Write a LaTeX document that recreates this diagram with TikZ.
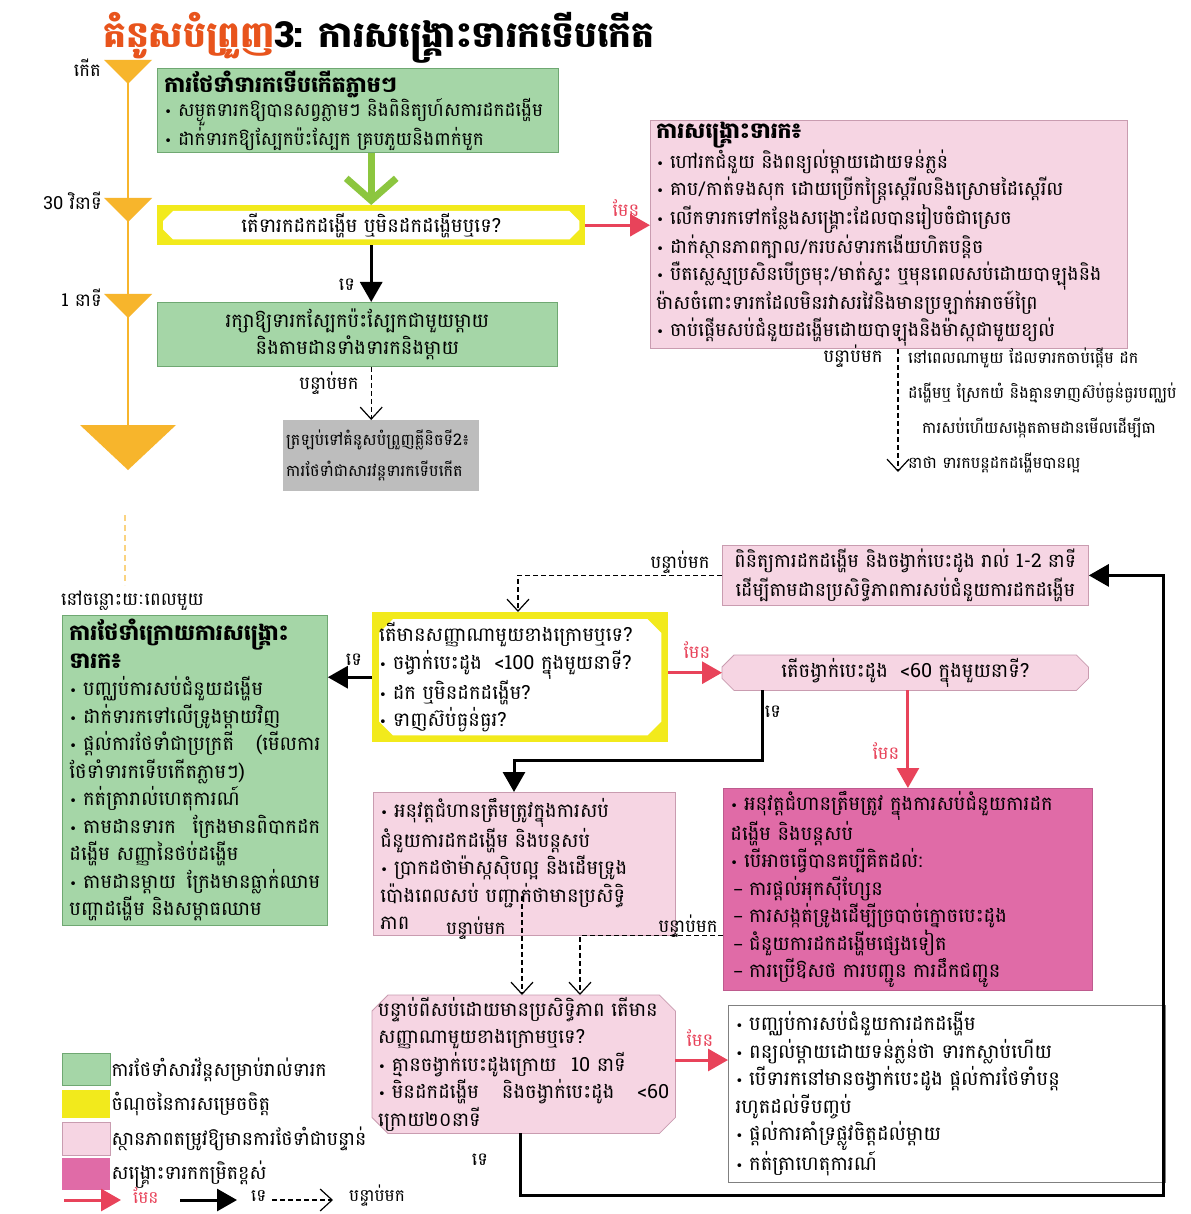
\documentclass[tikz,border=0pt]{standalone}
\usepackage{fontspec}
\newfontfamily\kh[Script=Khmer]{Battambang}
\newfontfamily\dv{DejaVu Sans}
\usetikzlibrary{arrows.meta,calc,backgrounds}
\definecolor{grn}{HTML}{A5D6A7}
\definecolor{grnd}{HTML}{6FA872}
\definecolor{grna}{HTML}{8CC63F}
\definecolor{yel}{HTML}{F2EA1C}
\definecolor{pnk}{HTML}{F6D5E3}
\definecolor{pnkd}{HTML}{C99CB0}
\definecolor{mag}{HTML}{E06BA7}
\definecolor{redc}{HTML}{E8435A}
\definecolor{org}{HTML}{F7B52C}
\definecolor{gry}{HTML}{BDBDBD}
\definecolor{ttl}{HTML}{E8541C}
\newcommand\bu{{\dv\fontsize{13}{10}\selectfont •}\hspace{6pt}}
\newcommand\di{{\dv –}\hspace{6pt}}
\newcommand\hd[1]{{\bfseries\fontsize{22}{27}\selectfont #1}}
\newcommand\chamf[4]{%
 \path[#4] ($(#1.north west)+(#2,#2+#3)$) -- ($(#1.north west)+(#2+#3,#2)$) -- ($(#1.north east)+(-#2-#3,#2)$) -- ($(#1.north east)+(-#2,#2+#3)$) -- ($(#1.south east)+(-#2,-#2-#3)$) -- ($(#1.south east)+(-#2-#3,-#2)$) -- ($(#1.south west)+(#2+#3,-#2)$) -- ($(#1.south west)+(#2,-#2-#3)$) -- cycle;}
\begin{document}
\begin{tikzpicture}[x=1pt,y=-1pt,
  box/.style={rectangle, anchor=north west, inner xsep=7pt, inner ysep=2pt, align=left},
  gbox/.style={box, fill=grn, draw=grnd, line width=0.8pt},
  pbox/.style={box, fill=pnk, draw=pnkd, line width=0.8pt},
  mbox/.style={box, fill=mag, draw=mag!85!black, line width=0.8pt},
  wbox/.style={box, fill=white, draw=gray, line width=1pt},
  plain/.style={box, draw=none},
  tA/.style={font=\kh\fontsize{19.5}{27.5}\selectfont},
  tB/.style={font=\kh\fontsize{16}{35}\selectfont},
  lbl/.style={font=\kh\fontsize{18}{20}\selectfont, inner sep=1pt},
  ylbl/.style={lbl, text=redc},
  yesarr/.style={draw=redc, line width=3pt, -{Triangle[length=20pt,width=22pt]}},
  noarr/.style={draw=black, line width=3pt, -{Triangle[length=20pt,width=22pt]}},
  thenarr/.style={draw=black, line width=1.2pt, dash pattern=on 5pt off 3pt, -{Straight Barb[length=12pt,width=22pt,line width=1.2pt]}},
]
\begin{scope}[on background layer]
\fill[white] (0,0) rectangle (1190,1214);
\end{scope}
\useasboundingbox (0,0) rectangle (1190,1214);

% title
\node[anchor=west, font=\kh\bfseries\fontsize{36}{40}\selectfont, inner sep=0pt] (title) at (103,38)
  {\textcolor{ttl}{គំនូសបំព្រួញ}3: ការសង្គ្រោះទារកទើបកើត};

% timeline
\draw[org, line width=2.5pt] (128,62) -- (128,428);
\fill[org] (104,60) -- (152,60) -- (128,84) -- cycle;
\fill[org] (104,198) -- (152,198) -- (128,222) -- cycle;
\fill[org] (104,294) -- (152,294) -- (128,318) -- cycle;
\fill[org] (80,425) -- (176,425) -- (128,470) -- cycle;
\draw[org!60, line width=1.5pt, dash pattern=on 6pt off 4pt] (125,515) -- (125,585);
\node[lbl, anchor=east] (tk0) at (102,68) {កើត};
\node[lbl, anchor=east] (tk1) at (103,201) {30 វិនាទី};
\node[lbl, anchor=east] (tk2) at (103,298) {1 នាទី};

% top part
\node[gbox, font=\kh\fontsize{18.5}{24.5}\selectfont, text width=387pt, minimum height=84pt] (g1) at (157,68)
 {\hd{ការថែទាំទារកទើបកើតភ្លាមៗ}\\
  \bu សម្ងួតទារកឱ្យបានសព្វភ្លាមៗ និងពិនិត្យហ៍សការដកដង្ហើម\\
  \bu ដាក់ទារកឱ្យស្បែកប៉ះស្បែក គ្របភួយនិងពាក់មួក};

\node[plain, tA, align=center, text width=414pt, minimum height=40pt] (q1) at (157,205)
 {តើទារកដកដង្ហើម ឬមិនដកដង្ហើមឬទេ?};

\node[gbox, tA, align=center, text width=386pt, minimum height=64pt] (g2) at (157,302)
 {រក្សាឱ្យទារកស្បែកប៉ះស្បែកជាមួយម្ដាយ\\ និងតាមដានទាំងទារកនិងម្ដាយ};

\node[box, fill=gry, font=\kh\fontsize{16}{31}\selectfont, inner xsep=3pt, text width=190pt, minimum height=71pt] (gr) at (283,420)
 {ត្រឡប់ទៅគំនូសបំព្រួញគ្លីនិចទី2៖\\ ការថែទាំជាសារវន្តទារកទើបកើត};

\node[pbox, font=\kh\fontsize{19}{27}\selectfont, inner xsep=6pt, text width=465pt, minimum height=220pt] (p1) at (650,120)
 {\hd{ការសង្គ្រោះទារក៖}\\
  \bu ហៅរកជំនួយ និងពន្យល់ម្ដាយដោយទន់ភ្លន់\\
  \bu គាប/កាត់ទងសុក ដោយប្រើកន្ត្រៃស្តេរីលនិងស្រោមដៃស្តេរីល\\
  \bu លើកទារកទៅកន្លែងសង្គ្រោះដែលបានរៀបចំជាស្រេច\\
  \bu ដាក់ស្ថានភាពក្បាល/ករបស់ទារកងើយហិតបន្តិច\\
  \mbox{\bu បឺតស្លេស្មប្រសិនបើច្រមុះ/មាត់ស្ទះ ឬមុនពេលសប់ដោយបាឡុងនិង}\\
  ម៉ាសចំពោះទារកដែលមិនរវាសរវៃនិងមានប្រឡាក់អាចម៍ព្រៃ\\
  \bu ចាប់ផ្ដើមសប់ជំនួយដង្ហើមដោយបាឡុងនិងម៉ាស្កជាមួយខ្យល់};

\node[plain, tB, inner sep=0pt] (nt) at (908,348)
 {នៅពេលណាមួយ ដែលទារកចាប់ផ្ដើម ដក\\
  ដង្ហើមឬ ស្រែកយំ និងគ្មានទាញស៊ប់ធ្ងន់ធ្ងរបញ្ឈប់\\
  \hspace{14pt}ការសប់ហើយសង្កេតតាមដានមើលដើម្បីធា\\
  នាថា ទារកបន្តដកដង្ហើមបានល្អ};
\coordinate (c1) at (898,472);

% top connectors
\draw[grna, line width=7pt, -{Straight Barb[length=22pt,width=50pt,line width=7pt]}] (q1.north |- g1.south) -- (q1.north);
\draw[yesarr] (q1.east) -- (q1.east -| p1.west);
\node[ylbl] (l1) at (626,208) {មែន};
\draw[noarr] (q1.south) -- (q1.south |- g2.north);
\node[lbl] (l2) at (347,285) {ទេ};
\draw[thenarr] (q1.south |- g2.south) -- (q1.south |- gr.north);
\node[lbl] (l3) at (329,383) {បន្ទាប់មក};
\draw[thenarr] (p1.south -| c1) -- (c1);
\node[lbl] (l4) at (853,356) {បន្ទាប់មក};

% bottom part
\node[lbl, anchor=west] (lt) at (60,601) {នៅចន្លោះយៈពេលមួយ};
\node[gbox, tA, text width=251pt, minimum height=310pt] (g3) at (62,615)
 {\hd{ការថែទាំក្រោយការសង្គ្រោះ}\\
  \hd{ទារក៖}\\
  \bu បញ្ឈប់ការសប់ជំនួយដង្ហើម\\
  \bu ដាក់ទារកទៅលើទ្រូងម្ដាយវិញ\\
  \bu ផ្ដល់ការថែទាំជាប្រក្រតី\hfill(មើលការ\\
  ថែទាំទារកទើបកើតភ្លាមៗ)\\
  \bu កត់ត្រារាល់ហេតុការណ៍\\
  \bu តាមដានទារក\hfill ក្រែងមានពិបាកដក\\
  ដង្ហើម សញ្ញានៃថប់ដង្ហើម\\
  \bu តាមដានម្ដាយ\hfill ក្រែងមានធ្លាក់ឈាម\\
  បញ្ហាដង្ហើម និងសម្ពាធឈាម};

\node[plain, tA, text width=282pt, minimum height=130pt] (q2) at (372,612)
 {តើមានសញ្ញាណាមួយខាងក្រោមឬទេ?\\
  \bu ចង្វាក់បេះដូង\hspace{6pt} <100 ក្នុងមួយនាទី?\\
  \bu ដក ឬមិនដកដង្ហើម?\\
  \bu ទាញស៊ប់ធ្ងន់ធ្ងរ?};

\node[pbox, font=\kh\fontsize{19}{29}\selectfont, align=center, text width=352pt, minimum height=60pt] (p2) at (722,545)
 {ពិនិត្យការដកដង្ហើម និងចង្វាក់បេះដូង រាល់ 1-2 នាទី\\
  ដើម្បីតាមដានប្រសិទ្ធិភាពការសប់ជំនួយការដកដង្ហើម};

\node[plain, tA, align=center, text width=352pt, minimum height=35pt] (h1) at (722,655)
 {តើចង្វាក់បេះដូង\hspace{6pt} <60 ក្នុងមួយនាទី?};

\node[pbox, tA, text width=288pt, minimum height=143pt] (p3) at (373,792)
 {\bu អនុវត្តជំហានត្រឹមត្រូវក្នុងការសប់\\
  ជំនួយការដកដង្ហើម និងបន្តសប់\\
  \bu ប្រាកដថាម៉ាស្កស៊ិបល្អ និងដើមទ្រូង\\
  ប៉ោងពេលសប់ បញ្ជាក់ថាមានប្រសិទ្ធិ\\
  ភាព};

\node[mbox, tA, text width=355pt, minimum height=202pt] (m1) at (723,788)
 {\bu អនុវត្តជំហានត្រឹមត្រូវ ក្នុងការសប់ជំនួយការដក\\
  ដង្ហើម និងបន្តសប់\\
  \bu បើអាចធ្វើបានគប្បីគិតដល់:\\
  \hspace{3pt}\di ការផ្ដល់អុកស៊ីហ្សែន\\
  \hspace{3pt}\di ការសង្កត់ទ្រូងដើម្បីច្របាច់ក្នោចបេះដូង\\
  \hspace{3pt}\di ជំនួយការដកដង្ហើមផ្សេងទៀត\\
  \hspace{3pt}\di ការប្រើឱសថ ការបញ្ជូន ការដឹកជញ្ជូន};

\node[plain, tA, inner xsep=6pt, text width=291pt, minimum height=135pt] (h2) at (372,995)
 {បន្ទាប់ពីសប់ដោយមានប្រសិទ្ធិភាព តើមាន\\
  សញ្ញាណាមួយខាងក្រោមឬទេ?\\
  \bu គ្មានចង្វាក់បេះដូងក្រោយ\hspace{8pt} 10 នាទី\\
  \bu មិនដកដង្ហើម\hfill និងចង្វាក់បេះដូង\hfill <60\\
  ក្រោយ២០នាទី};

\node[wbox, tA, text width=423pt, minimum height=177pt] (w1) at (728,1005)
 {\bu បញ្ឈប់ការសប់ជំនួយការដកដង្ហើម\\
  \bu ពន្យល់ម្ដាយដោយទន់ភ្លន់ថា ទារកស្លាប់ហើយ\\
  \bu បើទារកនៅមានចង្វាក់បេះដូង ផ្ដល់ការថែទាំបន្ត\\
  រហូតដល់ទីបញ្ចប់\\
  \bu ផ្ដល់ការគាំទ្រផ្លូវចិត្តដល់ម្ដាយ\\
  \bu កត់ត្រាហេតុការណ៍};

% backgrounds of special shapes
\begin{scope}[on background layer]
\fill[yel] (q1.north west) rectangle (q1.south east);
\chamf{q1}{6}{10}{fill=white}
\fill[yel] (q2.north west) rectangle (q2.south east);
\chamf{q2}{7}{14}{fill=white}
\chamf{h1}{0}{12}{fill=pnk, draw=pnkd, line width=0.8pt}
\chamf{h2}{0}{16}{fill=pnk, draw=pnkd, line width=0.8pt}
\end{scope}

% bottom connectors
\draw[thenarr] (p2.west) -| ($(q2.north west)+(146,0)$);
\node[lbl] (l5) at (680,562) {បន្ទាប់មក};
\draw[noarr] (q2.west) -- (q2.west -| g3.east);
\node[lbl] (l6) at (354,660) {ទេ};
\draw[yesarr] (q2.east |- h1.west) -- (h1.west);
\node[ylbl] (l7) at (697,650) {មែន};
\coordinate (k1) at (762,760);
\draw[noarr] (h1.south -| k1) -- (k1) -| ($(p3.north west)+(141,0)$);
\node[lbl] (l8) at (773,712) {ទេ};
\draw[yesarr] (h1.south -| m1.north) -- (m1.north);
\node[ylbl] (l9) at (886,751) {មែន};
\draw[thenarr] ($(p3.south west)+(149,-40)$) -- ($(h2.north west)+(150,0)$);
\node[lbl] (l10) at (476,928) {បន្ទាប់មក};
\draw[thenarr] ($(m1.south west)+(0,-55)$) -| ($(h2.north west)+(208,0)$);
\node[lbl] (l11) at (688,926) {បន្ទាប់មក};
\draw[yesarr] (h2.east |- 0,1060) -- (w1.west |- 0,1060);
\node[ylbl] (l12) at (700,1038) {មែន};
\coordinate (k2) at (1163,1195);
\draw[noarr] ($(h2.south west)+(148,0)$) |- (k2) |- (p2.east);
\node[lbl] (l13) at (480,1160) {ទេ};

% legend
\node[box, fill=grn, draw=grnd, minimum width=48pt, minimum height=32pt, inner sep=0pt] (lg1) at (62,1053) {};
\node[box, fill=yel, draw=none, minimum width=48pt, minimum height=28pt, inner sep=0pt] (lg2) at (62,1090) {};
\node[box, fill=pnk, draw=pnkd, minimum width=48pt, minimum height=33pt, inner sep=0pt] (lg3) at (62,1122) {};
\node[box, fill=mag, draw=none, minimum width=48pt, minimum height=32pt, inner sep=0pt] (lg4) at (62,1158) {};
\node[lbl, anchor=west, font=\kh\fontsize{19}{20}\selectfont] (lt1) at (lg1.east) {ការថែទាំសារវ័ន្តសម្រាប់រាល់ទារក};
\node[lbl, anchor=west, font=\kh\fontsize{19}{20}\selectfont] (lt2) at (lg2.east) {ចំណុចនៃការសម្រេចចិត្ត};
\node[lbl, anchor=west, font=\kh\fontsize{19}{20}\selectfont] (lt3) at (lg3.east) {ស្ថានភាពតម្រូវឱ្យមានការថែទាំជាបន្ទាន់};
\node[lbl, anchor=west, font=\kh\fontsize{19}{20}\selectfont] (lt4) at (lg4.east) {សង្គ្រោះទារកកម្រិតខ្ពស់};
\coordinate (a0) at (64,1200);
\coordinate (b0) at (121,1200);
\node[ylbl, anchor=west, font=\kh\fontsize{17}{18}\selectfont] (la1) at (132,1196) {មែន};
\draw[yesarr] (a0) -- (b0);
\coordinate (a1) at (180,1200);
\coordinate (b1) at (237,1200);
\node[lbl, anchor=west, font=\kh\fontsize{17}{18}\selectfont] (la2) at (250,1196) {ទេ};
\draw[noarr] (a1) -- (b1);
\coordinate (a2) at (272,1200);
\coordinate (b2) at (333,1200);
\node[lbl, anchor=west, font=\kh\fontsize{17}{18}\selectfont] (la3) at (348,1196) {បន្ទាប់មក};
\draw[thenarr, line width=2pt] (a2) -- (b2);
\end{tikzpicture}
\end{document}
